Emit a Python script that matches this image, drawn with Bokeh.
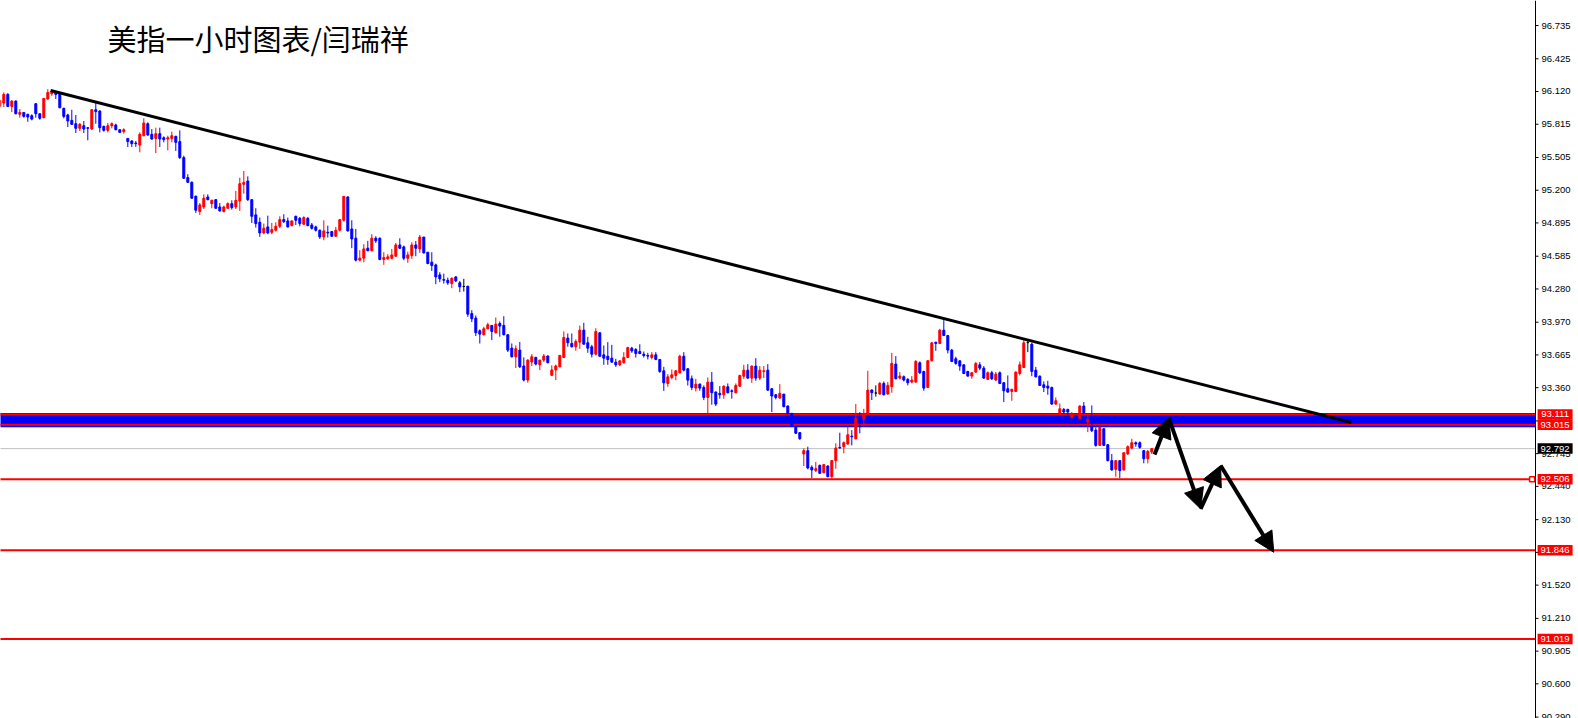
from bokeh.plotting import figure
from bokeh.models import (Range1d, Label, Span, BoxAnnotation, Arrow, NormalHead,
                          ColumnDataSource)
from bokeh.core.properties import value
from bokeh.embed import file_html
from bokeh.resources import INLINE

# ---------------- data (USD index, 1h candles) ----------------
opens = [95.981, 96.012, 96.093, 95.981, 96.031, 95.907, 95.925, 95.907, 95.894, 96.006,
         95.913, 95.876, 96.050, 96.099, 96.111, 96.099, 95.963, 95.901, 95.851, 95.820,
         95.777, 95.801, 95.783, 95.770, 95.950, 95.938, 95.795, 95.758, 95.801, 95.808,
         95.764, 95.746, 95.683, 95.659, 95.640, 95.621, 95.708, 95.820, 95.721, 95.683,
         95.727, 95.689, 95.677, 95.683, 95.702, 95.653, 95.504, 95.318, 95.274, 95.144,
         95.001, 95.044, 95.137, 95.075, 95.112, 95.044, 95.001, 95.032, 95.075, 95.044,
         95.100, 95.255, 95.286, 95.112, 94.970, 94.901, 94.802, 94.858, 94.808, 94.827,
         94.864, 94.926, 94.914, 94.870, 94.957, 94.938, 94.883, 94.938, 94.876, 94.858,
         94.827, 94.765, 94.808, 94.815, 94.771, 94.827, 94.920, 95.137, 94.839, 94.753,
         94.548, 94.567, 94.660, 94.635, 94.753, 94.753, 94.554, 94.560, 94.566, 94.585,
         94.690, 94.672, 94.566, 94.591, 94.690, 94.653, 94.764, 94.622, 94.529, 94.504,
         94.411, 94.368, 94.361, 94.330, 94.392, 94.337, 94.303, 94.306, 94.051, 94.008,
         93.890, 93.853, 93.909, 93.940, 93.872, 93.958, 93.940, 93.853, 93.729, 93.648,
         93.710, 93.562, 93.431, 93.599, 93.642, 93.574, 93.617, 93.655, 93.475, 93.525,
         93.555, 93.642, 93.822, 93.772, 93.741, 93.784, 93.896, 93.778, 93.741, 93.672,
         93.871, 93.666, 93.653, 93.635, 93.598, 93.573, 93.592, 93.641, 93.728, 93.716,
         93.697, 93.672, 93.660, 93.641, 93.666, 93.623, 93.517, 93.399, 93.455, 93.474,
         93.498, 93.653, 93.536, 93.443, 93.356, 93.393, 93.362, 93.269, 93.411, 93.319,
         93.306, 93.294, 93.368, 93.331, 93.313, 93.374, 93.467, 93.523, 93.449, 93.561,
         93.449, 93.511, 93.523, 93.350, 93.294, 93.263, 93.300, 93.189, 93.121, 92.990,
         92.941, 92.742, 92.773, 92.618, 92.587, 92.636, 92.568, 92.630, 92.531, 92.680,
         92.804, 92.810, 92.835, 92.909, 92.884, 93.070, 93.064, 93.120, 93.338, 93.310,
         93.301, 93.400, 93.301, 93.369, 93.580, 93.449, 93.462, 93.437, 93.412, 93.412,
         93.592, 93.511, 93.362, 93.611, 93.784, 93.772, 93.896, 93.846, 93.710, 93.629,
         93.610, 93.573, 93.511, 93.468, 93.505, 93.573, 93.542, 93.437, 93.499, 93.431,
         93.499, 93.406, 93.350, 93.325, 93.325, 93.492, 93.548, 93.780, 93.765, 93.523,
         93.467, 93.387, 93.375, 93.362, 93.207, 93.120, 93.157, 93.157, 93.083, 93.100,
         93.071, 93.189, 93.039, 92.996, 92.965, 92.822, 92.977, 92.828, 92.680, 92.599,
         92.680, 92.593, 92.742, 92.797, 92.847, 92.847, 92.773, 92.698, 92.760]
highs = [96.050, 96.111, 96.105, 96.037, 96.037, 95.956, 95.925, 95.913, 95.907, 96.012,
         95.913, 96.056, 96.142, 96.130, 96.111, 96.105, 95.969, 95.913, 95.950, 95.901,
         95.826, 95.845, 95.783, 95.956, 96.031, 95.944, 95.801, 95.826, 95.832, 95.820,
         95.764, 95.777, 95.683, 95.665, 95.659, 95.739, 95.870, 95.832, 95.770, 95.783,
         95.783, 95.702, 95.708, 95.745, 95.708, 95.758, 95.522, 95.349, 95.281, 95.150,
         95.081, 95.162, 95.162, 95.112, 95.118, 95.081, 95.056, 95.087, 95.106, 95.193,
         95.317, 95.379, 95.329, 95.118, 95.032, 94.945, 94.889, 94.963, 94.895, 94.901,
         94.957, 94.976, 94.945, 94.920, 94.963, 94.951, 94.957, 94.951, 94.895, 94.870,
         94.833, 94.920, 94.870, 94.821, 94.858, 94.932, 95.143, 95.143, 94.920, 94.839,
         94.641, 94.697, 94.728, 94.790, 94.771, 94.759, 94.622, 94.604, 94.653, 94.709,
         94.752, 94.684, 94.628, 94.715, 94.727, 94.783, 94.764, 94.622, 94.622, 94.516,
         94.436, 94.423, 94.386, 94.386, 94.399, 94.355, 94.374, 94.306, 94.082, 94.033,
         93.903, 93.927, 93.965, 93.940, 94.014, 93.977, 94.026, 93.859, 93.772, 93.754,
         93.785, 93.642, 93.624, 93.673, 93.648, 93.617, 93.673, 93.661, 93.568, 93.574,
         93.661, 93.884, 93.865, 93.865, 93.810, 93.939, 93.964, 93.834, 93.759, 93.914,
         93.877, 93.753, 93.784, 93.759, 93.629, 93.616, 93.691, 93.741, 93.741, 93.728,
         93.765, 93.697, 93.685, 93.691, 93.691, 93.623, 93.554, 93.486, 93.529, 93.523,
         93.666, 93.691, 93.542, 93.473, 93.443, 93.399, 93.381, 93.455, 93.505, 93.325,
         93.375, 93.381, 93.399, 93.344, 93.399, 93.480, 93.573, 93.579, 93.567, 93.635,
         93.561, 93.561, 93.579, 93.356, 93.300, 93.393, 93.300, 93.195, 93.121, 93.003,
         92.947, 92.794, 92.810, 92.636, 92.667, 92.643, 92.649, 92.636, 92.686, 92.841,
         92.940, 92.859, 92.996, 92.965, 93.207, 93.132, 93.163, 93.517, 93.344, 93.381,
         93.412, 93.418, 93.412, 93.685, 93.654, 93.505, 93.474, 93.449, 93.468, 93.617,
         93.604, 93.517, 93.617, 93.784, 93.784, 93.908, 93.989, 93.852, 93.722, 93.648,
         93.617, 93.579, 93.517, 93.505, 93.598, 93.598, 93.561, 93.511, 93.517, 93.505,
         93.511, 93.412, 93.474, 93.350, 93.511, 93.604, 93.809, 93.796, 93.778, 93.554,
         93.474, 93.418, 93.424, 93.369, 93.269, 93.213, 93.170, 93.164, 93.133, 93.110,
         93.195, 93.226, 93.107, 93.194, 92.990, 92.996, 92.983, 92.835, 92.742, 92.680,
         92.680, 92.754, 92.822, 92.884, 92.859, 92.859, 92.779, 92.779, 92.797]
lows = [95.970, 95.975, 95.975, 95.928, 95.907, 95.876, 95.876, 95.838, 95.851, 95.876,
        95.857, 95.870, 96.043, 96.080, 96.050, 95.963, 95.870, 95.789, 95.808, 95.733,
        95.752, 95.733, 95.665, 95.764, 95.820, 95.739, 95.746, 95.739, 95.777, 95.758,
        95.739, 95.727, 95.603, 95.603, 95.603, 95.553, 95.702, 95.708, 95.671, 95.547,
        95.603, 95.646, 95.572, 95.646, 95.566, 95.491, 95.305, 95.268, 95.119, 94.989,
        94.970, 95.025, 95.106, 95.032, 95.025, 95.001, 94.994, 95.025, 95.019, 95.025,
        95.007, 95.168, 95.100, 94.895, 94.852, 94.765, 94.790, 94.790, 94.790, 94.815,
        94.846, 94.895, 94.852, 94.864, 94.876, 94.864, 94.876, 94.864, 94.833, 94.815,
        94.746, 94.734, 94.759, 94.765, 94.765, 94.815, 94.908, 94.815, 94.660, 94.536,
        94.536, 94.529, 94.635, 94.635, 94.709, 94.548, 94.505, 94.554, 94.554, 94.579,
        94.653, 94.548, 94.523, 94.560, 94.585, 94.616, 94.610, 94.510, 94.448, 94.324,
        94.343, 94.330, 94.318, 94.287, 94.343, 94.250, 94.256, 94.020, 93.971, 93.841,
        93.772, 93.847, 93.902, 93.803, 93.865, 93.835, 93.847, 93.692, 93.642, 93.543,
        93.543, 93.419, 93.406, 93.562, 93.568, 93.524, 93.599, 93.586, 93.468, 93.431,
        93.549, 93.636, 93.742, 93.735, 93.704, 93.722, 93.765, 93.685, 93.641, 93.660,
        93.647, 93.573, 93.573, 93.592, 93.554, 93.561, 93.585, 93.635, 93.685, 93.641,
        93.672, 93.641, 93.623, 93.623, 93.616, 93.498, 93.330, 93.368, 93.437, 93.430,
        93.492, 93.511, 93.380, 93.337, 93.325, 93.331, 93.244, 93.120, 93.201, 93.189,
        93.257, 93.257, 93.306, 93.257, 93.306, 93.368, 93.442, 93.442, 93.405, 93.424,
        93.430, 93.449, 93.331, 93.133, 93.251, 93.257, 93.177, 93.108, 93.002, 92.928,
        92.873, 92.630, 92.599, 92.518, 92.574, 92.556, 92.562, 92.525, 92.512, 92.605,
        92.791, 92.748, 92.828, 92.822, 92.878, 92.934, 92.996, 93.107, 93.245, 93.276,
        93.294, 93.288, 93.294, 93.313, 93.437, 93.437, 93.418, 93.381, 93.400, 93.406,
        93.487, 93.331, 93.356, 93.604, 93.703, 93.766, 93.840, 93.679, 93.598, 93.573,
        93.517, 93.486, 93.462, 93.443, 93.499, 93.523, 93.443, 93.431, 93.431, 93.424,
        93.393, 93.226, 93.313, 93.238, 93.319, 93.474, 93.542, 93.691, 93.467, 93.455,
        93.375, 93.319, 93.294, 93.201, 93.201, 93.114, 93.114, 93.102, 93.071, 93.020,
        93.065, 93.121, 92.946, 92.946, 92.810, 92.816, 92.816, 92.673, 92.587, 92.531,
        92.518, 92.587, 92.735, 92.785, 92.810, 92.791, 92.655, 92.655, 92.742]
closes = [96.037, 96.093, 95.981, 96.031, 95.913, 95.925, 95.888, 95.882, 95.863, 95.913,
          95.870, 96.056, 96.111, 96.124, 96.093, 95.969, 95.888, 95.845, 95.814, 95.777,
          95.814, 95.770, 95.777, 95.950, 95.932, 95.783, 95.758, 95.801, 95.820, 95.764,
          95.739, 95.764, 95.653, 95.634, 95.634, 95.721, 95.826, 95.714, 95.677, 95.727,
          95.677, 95.671, 95.689, 95.708, 95.646, 95.504, 95.312, 95.274, 95.126, 95.014,
          95.063, 95.125, 95.112, 95.106, 95.032, 95.007, 95.044, 95.075, 95.038, 95.106,
          95.261, 95.273, 95.112, 94.957, 94.889, 94.802, 94.846, 94.802, 94.833, 94.864,
          94.926, 94.907, 94.858, 94.914, 94.920, 94.889, 94.945, 94.870, 94.845, 94.827,
          94.765, 94.821, 94.802, 94.771, 94.827, 94.926, 95.143, 94.821, 94.746, 94.548,
          94.567, 94.653, 94.635, 94.753, 94.728, 94.554, 94.573, 94.579, 94.597, 94.690,
          94.659, 94.566, 94.597, 94.690, 94.659, 94.764, 94.616, 94.517, 94.498, 94.392,
          94.374, 94.361, 94.337, 94.380, 94.355, 94.299, 94.303, 94.045, 94.002, 93.872,
          93.859, 93.909, 93.946, 93.884, 93.952, 93.934, 93.853, 93.710, 93.648, 93.723,
          93.555, 93.431, 93.617, 93.648, 93.580, 93.617, 93.655, 93.593, 93.525, 93.562,
          93.661, 93.828, 93.779, 93.741, 93.791, 93.896, 93.765, 93.728, 93.672, 93.883,
          93.653, 93.635, 93.622, 93.598, 93.573, 93.610, 93.641, 93.734, 93.703, 93.678,
          93.678, 93.660, 93.654, 93.666, 93.623, 93.511, 93.405, 93.461, 93.480, 93.517,
          93.653, 93.523, 93.430, 93.362, 93.393, 93.356, 93.269, 93.411, 93.313, 93.207,
          93.294, 93.374, 93.313, 93.325, 93.381, 93.474, 93.523, 93.449, 93.561, 93.449,
          93.523, 93.517, 93.337, 93.282, 93.269, 93.307, 93.183, 93.121, 93.008, 92.935,
          92.885, 92.773, 92.611, 92.593, 92.605, 92.562, 92.643, 92.531, 92.680, 92.798,
          92.798, 92.847, 92.921, 92.903, 93.076, 93.058, 93.120, 93.337, 93.313, 93.310,
          93.400, 93.294, 93.381, 93.586, 93.443, 93.468, 93.431, 93.406, 93.431, 93.604,
          93.499, 93.356, 93.611, 93.778, 93.772, 93.896, 93.846, 93.710, 93.604, 93.586,
          93.561, 93.492, 93.468, 93.499, 93.586, 93.542, 93.449, 93.499, 93.443, 93.486,
          93.399, 93.331, 93.319, 93.344, 93.505, 93.573, 93.778, 93.780, 93.511, 93.461,
          93.381, 93.362, 93.356, 93.207, 93.238, 93.163, 93.133, 93.133, 93.114, 93.030,
          93.189, 93.127, 93.064, 92.959, 92.822, 92.990, 92.822, 92.680, 92.593, 92.680,
          92.587, 92.754, 92.810, 92.847, 92.835, 92.804, 92.698, 92.766, 92.792]

# price scale ticks (as printed on the MT4 scale)
tick_values = [96.735, 96.425, 96.120, 95.815, 95.505, 95.200, 94.895, 94.585, 94.280,
               93.970, 93.665, 93.360, 93.050, 92.745, 92.440, 92.130, 91.825, 91.520,
               91.210, 90.905, 90.600, 90.290]

# drawn objects
band_low, band_high = 92.990, 93.125          # blue resistance zone
band_lines = [93.111, 93.015]                  # red edges of the zone
support_lines = [92.506, 91.846, 91.019]       # red horizontal targets
bid_price = 92.792                             # current price line
trend_x = [12.7, 337.9]                        # descending trend line (bar index)
trend_y = [96.129, 93.035]
path_x = [288.7, 292.25, 300.2, 305.2, 318.5]  # projected path arrows
path_y = [92.737, 93.079, 92.231, 92.634, 91.826]
title_text = "美指一小时图表/闫瑞祥"

# ---------------- figure ----------------
n = len(closes)
idx = list(range(n))
cols = []
for o, c in zip(opens, closes):
    if c > o:
        cols.append("#FF0000")
    elif c < o:
        cols.append("#0000FF")
    else:
        cols.append("#000000")
src = ColumnDataSource(dict(x=idx, h=highs, l=lows,
                            top=[max(a, b) for a, b in zip(opens, closes)],
                            bot=[min(a, b) for a, b in zip(opens, closes)],
                            col=cols))

x_left, x_right = 0.175, 394.675    # 4 px per bar
x_scale = 383.925                    # position of the price scale line
p = figure(width=1578, height=718, output_backend="svg", toolbar_location=None,
           x_range=Range1d(x_left, x_right), y_range=Range1d(90.277, 96.968),
           x_axis_location=None, y_axis_location=None,
           min_border=0, background_fill_color="white", border_fill_color="white",
           outline_line_color=None, tools="")
p.grid.visible = False

# zone behind the candles
p.add_layout(BoxAnnotation(left=x_left - 1, right=x_scale, bottom=band_low, top=band_high,
                           fill_color="#0000FF", fill_alpha=1.0, line_color=None,
                           level="underlay"))
# horizontal lines (drawn before the candles)
nb = len(band_lines)
p.segment(x0=[x_left - 1] * nb, y0=band_lines, x1=[x_scale] * nb, y1=band_lines,
          line_color="#FF0000", line_width=2)
p.segment(x0=[x_left - 1], y0=[bid_price], x1=[x_scale], y1=[bid_price],
          line_color="#C0C0C0", line_width=1)
ns = len(support_lines)
p.segment(x0=[x_left - 1] * ns, y0=support_lines, x1=[x_scale] * ns, y1=support_lines,
          line_color="#FF0000", line_width=2)

# candles
p.segment(x0="x", y0="h", x1="x", y1="l", source=src, line_color="col", line_width=1)
p.vbar(x="x", width=0.5, top="top", bottom="bot", source=src,
       fill_color="col", line_color="col", line_width=1)

# trend line
p.line(trend_x, trend_y, line_color="black", line_width=3)

# small anchor square of the 92.506 line
p.scatter([x_scale - 0.85], [support_lines[0]], marker="square", size=5,
          line_color="#FF0000", fill_color="white", line_width=1.5)

# projected path arrows
for i in range(len(path_x) - 1):
    p.add_layout(Arrow(end=NormalHead(size=20, fill_color="black", line_color="black"),
                       x_start=path_x[i], y_start=path_y[i],
                       x_end=path_x[i + 1], y_end=path_y[i + 1],
                       line_color="black", line_width=4))

# title
p.add_layout(Label(x=26.9, y=96.623, text=title_text, text_font="Noto Sans CJK SC",
                   text_font_size="29px", text_color="black", text_baseline="middle"))

# ---- price scale on the right ----
p.add_layout(Span(location=x_scale, dimension="height", line_color="black", line_width=1))
nt = len(tick_values)
p.segment(x0=[x_scale] * nt, y0=tick_values, x1=[x_scale + 0.75] * nt, y1=tick_values,
          line_color="black", line_width=1)
p.text(x=[x_scale + 1.5] * nt, y=tick_values, text=["%.3f" % v for v in tick_values],
       text_font=value("Liberation Sans"), text_font_size="9.5px", text_color="black",
       text_baseline="middle", text_align="left")

# price tags on the scale
tag_vals = [band_lines[0], band_lines[1], bid_price, support_lines[0],
            support_lines[1], support_lines[2]]
tag_cols = ["#FF0000", "#FF0000", "#000000", "#FF0000", "#FF0000", "#FF0000"]
nt2 = len(tag_vals)
tag_x = x_scale + 4.9
p.rect(x=[tag_x] * nt2, y=tag_vals, width=35, height=10.5, width_units="screen",
       height_units="screen", fill_color=tag_cols, line_color=None)
p.text(x=[tag_x] * nt2, y=tag_vals, text=["%.3f" % v for v in tag_vals],
       text_font=value("Liberation Sans"), text_font_size="9.5px", text_color="white",
       text_baseline="middle", text_align="center")

open("out.html", "w").write(file_html(p, INLINE))
